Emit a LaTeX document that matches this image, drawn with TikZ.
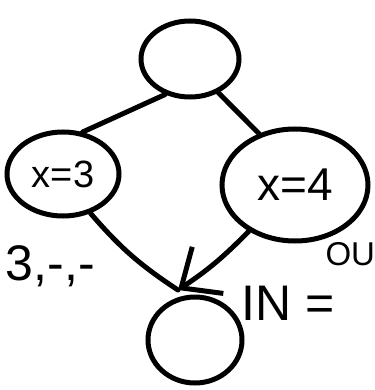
\documentclass[tikz,border=0pt]{standalone}
\usepackage{fontspec}
\setmainfont{Liberation Sans}
\usetikzlibrary{shapes, arrows.meta, positioning}

\begin{document}
\begin{tikzpicture}[x=1pt, y=-1pt, line width=5pt, line cap=round,
    state/.style={draw, ellipse, inner sep=0pt},
    flow/.style={-{Straight Barb[length=32pt, width=56pt, line width=5pt]}}]
  \useasboundingbox (0,0) rectangle (374,390);
  \node[state, minimum width=112pt, minimum height=84pt, font=\fontsize{38}{40}\selectfont] (left) at (63,174) {x=3};
  \node[state, minimum width=98pt, minimum height=76pt] (top) at (190,59) {};
  \node[state, minimum width=146pt, minimum height=112pt, font=\fontsize{46}{48}\selectfont] (right) at (295,185) {x=4};
  \node[state, minimum width=94pt, minimum height=86pt] (bottom) at (195,340) {};
  \coordinate (meet) at (178,290);
  \draw (top.-125) -- (left.65);
  \draw (top.-50) -- (right.125);
  \draw (left.-55) to[bend right=8] (meet);
  \draw[flow] (right.-135) to[bend left=6] (meet);
  \node[anchor=west, font=\fontsize{50}{52}\selectfont] (seen) at (0,266) {3,-,-};
  \node[anchor=west, font=\fontsize{50}{52}\selectfont] (inlab) at (236,303) {IN =};
  \node[anchor=west, inner sep=0pt, font=\fontsize{33}{35}\selectfont] (outlab) at (323,254) {OU};
\end{tikzpicture}
\end{document}
